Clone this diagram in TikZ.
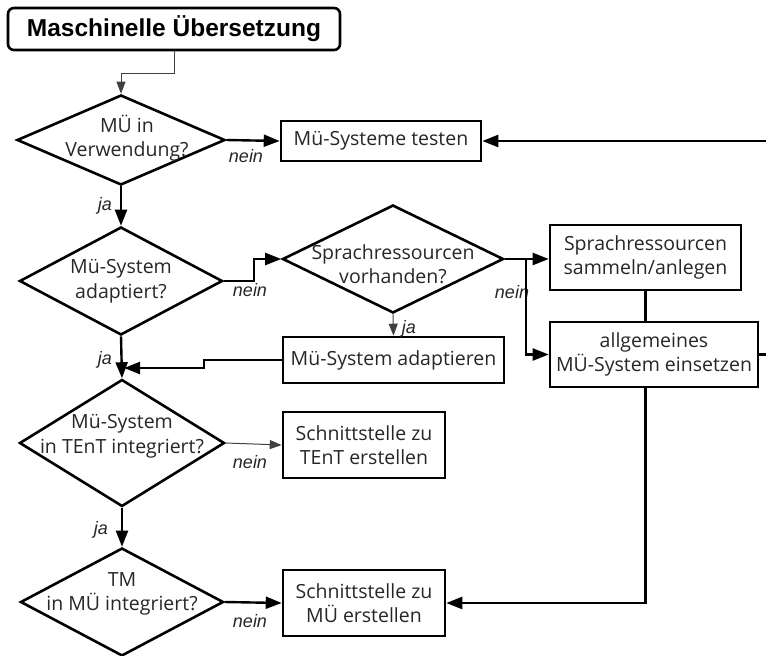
\documentclass[tikz,border=0pt]{standalone}
\usepackage{fontspec}
\setmainfont{Open Sans}
\newfontfamily\arialfont{Liberation Sans}
\usetikzlibrary{shapes.geometric,arrows.meta}

\newcommand\flowfont{\fontsize{19.5}{24.5}\selectfont}
\newcommand\tagfont{\arialfont\itshape\fontsize{18}{20}\selectfont}

\begin{document}
\begin{tikzpicture}[x=1pt,y=-1pt,
  titlebox/.style={draw,rounded corners=6pt,line width=2.6pt,inner sep=0pt,
    minimum width=332pt,minimum height=42pt,
    font=\arialfont\bfseries\fontsize{24.5}{27}\selectfont},
  stepbox/.style={draw,rectangle,line width=2.6pt,inner sep=0pt,align=center,
    font=\flowfont,text=black!85},
  decision/.style={draw,shape=diamond,line width=2.6pt,inner sep=0pt},
  dtext/.style={align=center,font=\flowfont,text=black!85},
  tag/.style={font=\tagfont,text=black!85,inner sep=0pt},
  conn/.style={line width=2.4pt,-{Triangle[length=16pt,width=12pt]}},
  thinconn/.style={line width=1pt,draw=black!75,-{Triangle[length=12pt,width=9pt]}},
  plain/.style={line width=2.4pt}
]
\useasboundingbox (0,0) rectangle (766,656);

% title
\node[titlebox] (title) at (174,29) {Maschinelle Übersetzung};

% decisions
\node[decision,minimum width=208pt,minimum height=90pt,
  label={[dtext,xshift=6pt,yshift=2pt]center:MÜ in\\Verwendung?}] (d1) at (121,140) {};
\node[decision,minimum width=203pt,minimum height=108pt,
  label={[dtext]center:Mü-System\\adaptiert?}] (d2) at (121,281) {};
\node[decision,minimum width=221pt,minimum height=108pt,
  label={[dtext,yshift=-5pt]center:Sprachressourcen\\vorhanden?}] (d3) at (393,259) {};
\node[decision,minimum width=205pt,minimum height=127pt,
  label={[dtext,yshift=7pt]center:Mü-System\\in TEnT integriert?}] (d4) at (122,443) {};
\node[decision,minimum width=203pt,minimum height=108pt,
  label={[dtext,yshift=8pt]center:TM\\in MÜ integriert?}] (d5) at (122,602) {};

% actions
\node[stepbox,minimum width=200pt,minimum height=40pt] (testen) at (381,141) {Mü-Systeme testen};
\node[stepbox,minimum width=191pt,minimum height=65pt] (sammeln) at (645.5,257.5) {Sprachressourcen\\sammeln/anlegen};
\node[stepbox,minimum width=221pt,minimum height=46pt] (adapt) at (393.5,360) {Mü-System adaptieren};
\node[stepbox,minimum width=208pt,minimum height=65pt] (allg) at (654,354.5) {allgemeines\\MÜ-System einsetzen};
\node[stepbox,minimum width=162pt,minimum height=66pt] (stent) at (364,445) {Schnittstelle zu\\TEnT erstellen};
\node[stepbox,minimum width=162pt,minimum height=66pt] (smu) at (364,603) {Schnittstelle zu\\MÜ erstellen};

% branch labels
\node[tag] (n1) at (246,156) {nein};
\node[tag] (n2) at (250,290) {nein};
\node[tag] (n3) at (512,292) {nein};
\node[tag] (n4) at (250,462) {nein};
\node[tag] (n5) at (250,621) {nein};
\node[tag] (j1) at (105,206) {ja};
\node[tag] (j2) at (105,360) {ja};
\node[tag] (j3) at (101,530) {ja};
\node[tag] (j4) at (409,329) {ja};

% connectors
\draw[thinconn] (title.south) -- ++(0,22) -| (d1.north);
\draw[conn] (d1.east) -- (testen.west);
\draw[conn] (d1.south) -- (d2.north);
\draw[conn] (d2.east) -- ++(30,0) |- (d3.west);
\draw[thinconn] (d3.south) -- (adapt.north);
\draw[conn] (d3.east) -- (d3.east -| sammeln.west);
\path (d3.east) ++(21,0) coordinate (split);
\draw[conn] (split) |- (allg.west);
\draw[plain] (sammeln.south) -- (sammeln.south |- allg.north);
\draw[conn] (allg.east) -- ++(30,0) |- (testen.east);
\coordinate (merge) at (124,368);
\draw[conn] (adapt.west) -- ++(-78,0) |- (merge);
\draw[conn] (d2.south) -- (d4.north);
\draw[thinconn] (d4.east) -- (stent.west);
\draw[conn] (d4.south) -- (d5.north);
\draw[conn] (d5.east) -- (smu.west);
\draw[conn] (sammeln.south |- allg.south) |- (smu.east);
\end{tikzpicture}
\end{document}
